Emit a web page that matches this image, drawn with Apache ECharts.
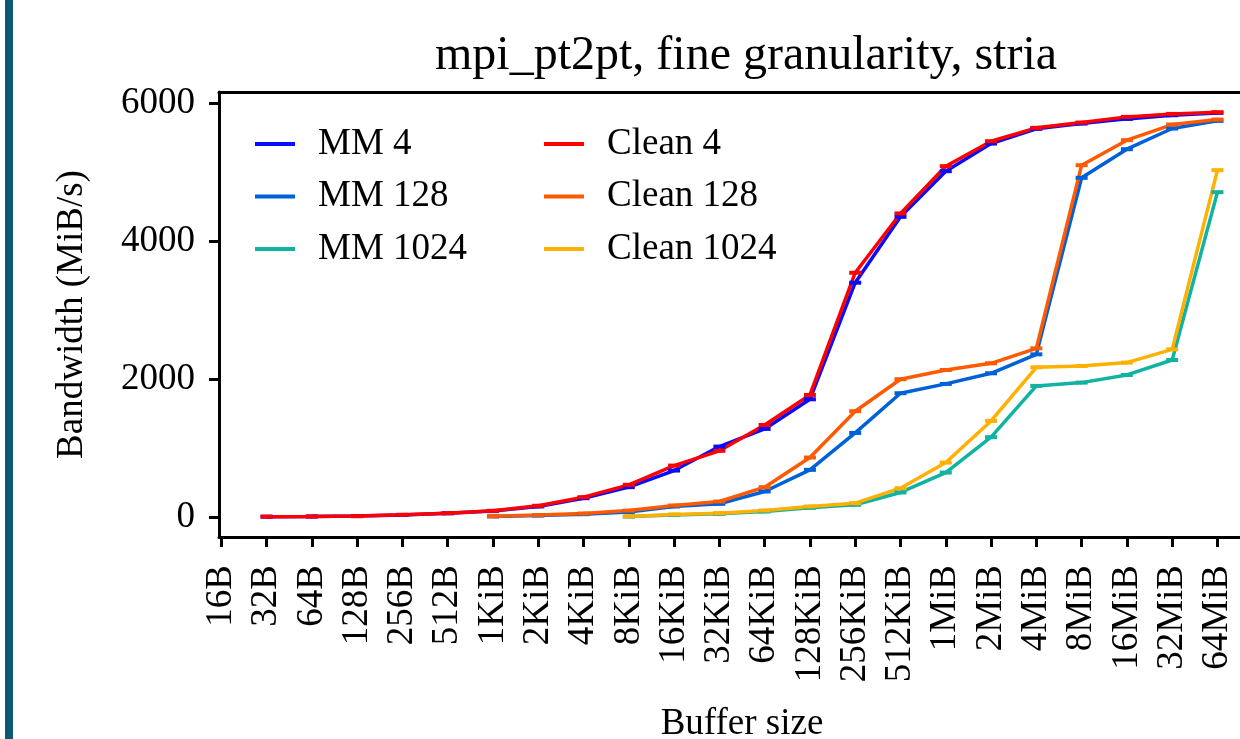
<!DOCTYPE html>
<html>
<head>
<meta charset="utf-8">
<script src="https://cdn.jsdelivr.net/npm/echarts@6/dist/echarts.min.js"></script>
<style>
html, body { margin: 0; padding: 0; background: #fff; overflow: hidden; width: 1240px; height: 739px; }
/* the plot frame runs past the right edge of the picture, so the chart is wider than the window */
#chart { width: 1265px; height: 739px; }
</style>
</head>
<body>
<div id="chart"></div>
<script>
// buffer sizes on the x axis
const sizes = ['16B', '32B', '64B', '128B', '256B', '512B', '1KiB', '2KiB', '4KiB', '8KiB', '16KiB', '32KiB',
    '64KiB', '128KiB', '256KiB', '512KiB', '1MiB', '2MiB', '4MiB', '8MiB', '16MiB', '32MiB', '64MiB']
const yTicks = [0, 2000, 4000, 6000]

// bandwidth in MiB/s, null where a run has no point
const mm4 = [null, 2, 5, 10, 27, 50, 83, 150, 270, 430, 671, 1019, 1275, 1705, 3396, 4352, 5014, 5415, 5628, 5705, 5773, 5826, 5860]
const mm128 = [null, null, null, null, null, null, 6, 18, 38, 70, 150, 188, 367, 681, 1217, 1793, 1928, 2082, 2357, 4918, 5333, 5633, 5744]
const mm1024 = [null, null, null, null, null, null, null, null, null, 3, 25, 43, 77, 130, 174, 353, 642, 1155, 1899, 1947, 2058, 2275, 4710]
const clean4 = [null, 2, 5, 10, 29, 53, 87, 160, 285, 464, 743, 957, 1333, 1768, 3541, 4401, 5087, 5449, 5643, 5720, 5802, 5845, 5870]
const clean128 = [null, null, null, null, null, null, 8, 25, 48, 90, 164, 222, 430, 860, 1532, 1996, 2130, 2227, 2444, 5101, 5464, 5691, 5763]
const clean1024 = [null, null, null, null, null, null, null, null, null, 5, 35, 53, 92, 150, 198, 415, 787, 1391, 2169, 2188, 2237, 2430, 5029]

const font = '"Liberation Serif", "DejaVu Serif", serif'

function makeSeries(name, values, color) {
    return {
        name: name,
        type: 'line',
        data: values.map((v, i) => [i, v]).filter(p => p[1] !== null),
        symbol: 'rect',
        symbolSize: [12, 4],
        showAllSymbol: true,
        lineStyle: { color: color, width: 3.5 },
        itemStyle: { color: color },
        emphasis: { disabled: true },
        animation: false
    }
}

const legendCommon = {
    orient: 'vertical',
    icon: 'rect',
    itemWidth: 40,
    itemHeight: 4,
    itemGap: 12.5,
    textStyle: { fontFamily: font, fontSize: 37, color: '#000', lineHeight: 40, padding: [0, 0, 0, 18] }
}

let chart = echarts.init(document.getElementById('chart'))
let option = {
    backgroundColor: '#fff',
    animation: false,
    title: {
        text: 'mpi_pt2pt, fine granularity, stria',
        left: 741,
        textAlign: 'center',
        top: 27,
        textStyle: { fontFamily: font, fontSize: 48, fontWeight: 'normal', color: '#000' }
    },
    grid: {
        left: 219,
        top: 92,
        bottom: 202,
        right: 0,
        outerBoundsMode: 'none'
    },
    legend: [
        Object.assign({ left: 250, top: 119, data: ['MM 4', 'MM 128', 'MM 1024'] }, legendCommon),
        Object.assign({ left: 539, top: 119, data: ['Clean 4', 'Clean 128', 'Clean 1024'] }, legendCommon)
    ],
    xAxis: [{
        type: 'value',
        min: -0.05,
        max: 23.05,
        name: 'Buffer size',
        nameLocation: 'middle',
        nameGap: 169,
        nameTextStyle: { fontFamily: font, fontSize: 37, color: '#000' },
        axisLine: { onZero: false, lineStyle: { color: '#000', width: 3 } },
        axisTick: { show: true, length: 10, lineStyle: { color: '#000', width: 3 }, customValues: sizes.map((s, i) => i) },
        axisLabel: {
            rotate: 90,
            margin: 28,
            fontFamily: font,
            fontSize: 37,
            color: '#000',
            customValues: sizes.map((s, i) => i),
            formatter: v => sizes[Math.round(v)]
        },
        splitLine: { show: false }
    }, {
        type: 'value',
        position: 'top',
        min: -0.05,
        max: 23.05,
        axisLine: { show: true, onZero: false, lineStyle: { color: '#000', width: 3 } },
        axisTick: { show: false },
        axisLabel: { show: false },
        splitLine: { show: false }
    }],
    yAxis: {
        type: 'value',
        min: -293,
        max: 6163,
        name: 'Bandwidth (MiB/s)',
        nameLocation: 'middle',
        nameGap: 128,
        nameTextStyle: { fontFamily: font, fontSize: 37, color: '#000' },
        axisLine: { show: true, onZero: false, lineStyle: { color: '#000', width: 3 } },
        axisTick: { show: true, length: 10, lineStyle: { color: '#000', width: 3 }, customValues: yTicks },
        axisLabel: { margin: 24, fontFamily: font, fontSize: 37, color: '#000', customValues: yTicks, formatter: v => String(v) },
        splitLine: { show: false }
    },
    graphic: [{
        type: 'rect',
        shape: { x: 5, y: 0, width: 8, height: 739 },
        style: { fill: '#0b5877' },
        silent: true
    }],
    series: [
        makeSeries('MM 4', mm4, '#0a0aff'),
        makeSeries('MM 128', mm128, '#0060d8'),
        makeSeries('MM 1024', mm1024, '#10b2a2'),
        makeSeries('Clean 4', clean4, '#ff0000'),
        makeSeries('Clean 128', clean128, '#ff5a00'),
        makeSeries('Clean 1024', clean1024, '#ffb000')
    ]
}
chart.setOption(option)
</script>
</body>
</html>
